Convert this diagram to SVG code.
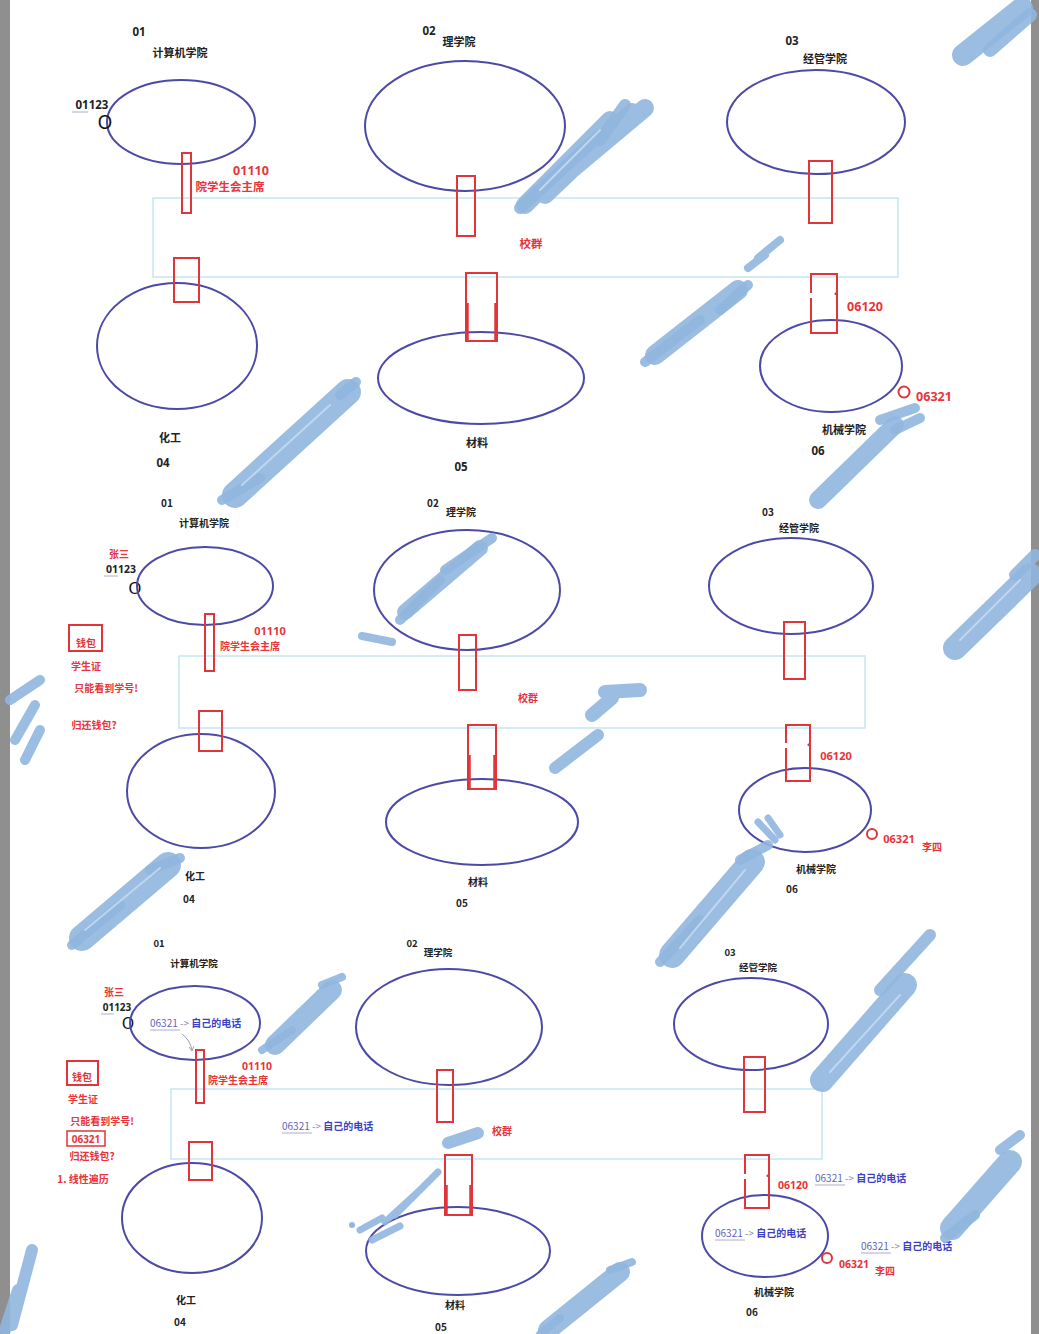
<svg xmlns="http://www.w3.org/2000/svg" width="1039" height="1334" viewBox="0 0 1039 1334">
<style>
.ell{fill:none;stroke:#4c4aa6;stroke-width:2}
.port{fill:none;stroke:#e0353a;stroke-width:2}
.thick{fill:none;stroke:#e0353a;stroke-width:3.5}
.grp{fill:none;stroke:#c4e6f0;stroke-width:1.5}
.k{font-family:"Noto Sans CJK SC","Noto Sans",sans-serif;font-weight:700;font-size:11px;fill:#222;text-anchor:middle}
.ks{font-family:"Noto Sans CJK SC","Noto Sans",sans-serif;font-weight:700;font-size:10px;fill:#222;text-anchor:middle}
.r{font-family:"Noto Sans CJK SC","Noto Sans",sans-serif;font-weight:700;font-size:11.5px;fill:#e8343a;text-anchor:middle}
.rs{font-family:"Noto Sans CJK SC","Noto Sans",sans-serif;font-weight:700;font-size:10px;fill:#e8343a;text-anchor:middle}
.rn{font-family:"Noto Sans","Liberation Sans",sans-serif;font-weight:700;font-size:12.5px;fill:#e8343a;text-anchor:middle}
.rns{font-family:"Noto Sans","Liberation Sans",sans-serif;font-weight:700;font-size:11px;fill:#e8343a;text-anchor:middle}
.kn{font-family:"Noto Sans","Liberation Sans",sans-serif;font-weight:700;font-size:11.5px;fill:#222;text-anchor:middle}
.big{font-family:"Noto Sans","Liberation Sans",sans-serif;font-size:19px;fill:#111;text-anchor:middle}
.b{font-family:"Noto Sans CJK SC","Noto Sans",sans-serif;font-weight:700;font-size:10px;fill:#3b3fc4}
.bn{fill:#6464b8;font-weight:400}
.ar{fill:#8a8aa8;font-weight:400}
.ul{stroke:#9a9ab8;stroke-width:0.8}
.sc{fill:none;stroke:#91b6df;stroke-linecap:round;stroke-linejoin:round;opacity:0.9}
.hl{fill:none;stroke:#c8dcf2;stroke-linecap:round;opacity:0.8}
</style>
<rect x="0" y="0" width="1039" height="1334" fill="#ffffff"/>
<rect x="0" y="0" width="10" height="1334" fill="#8f8f8f"/>
<rect x="1031" y="0" width="8" height="1334" fill="#8f8f8f"/>

<!-- ================= PANEL 1 ================= -->
<g id="p1-group">
<rect class="grp" x="153" y="198" width="745" height="79"/>
<text class="r" x="531" y="248">校群</text>
</g>
<g id="p1-n01">
<text class="kn" x="139" y="36">01</text>
<text class="k" x="180" y="57">计算机学院</text>
<ellipse class="ell" cx="181" cy="122" rx="74" ry="42"/>
<text class="kn" x="92" y="109">01123</text>
<line x1="72" y1="112" x2="88" y2="112" class="ul"/>
<text class="big" x="105" y="129">O</text>
<rect class="port" x="182" y="153" width="9" height="60"/>
<text class="rn" x="251" y="175">01110</text>
<text class="r" x="230" y="191">院学生会主席</text>
</g>
<g id="p1-n02">
<text class="kn" x="429" y="35">02</text>
<text class="k" x="459" y="46">理学院</text>
<ellipse class="ell" cx="465" cy="126" rx="100" ry="65"/>
<rect class="port" x="457" y="176" width="18" height="60"/>
</g>
<g id="p1-n03">
<text class="kn" x="792" y="45">03</text>
<text class="k" x="825" y="63">经管学院</text>
<ellipse class="ell" cx="816" cy="122" rx="89" ry="52"/>
<rect class="port" x="809" y="161" width="23" height="62"/>
</g>
<g id="p1-n04">
<ellipse class="ell" cx="177" cy="346" rx="80" ry="63"/>
<rect class="port" x="174" y="258" width="25" height="44"/>
<text class="k" x="170" y="442">化工</text>
<text class="kn" x="163" y="467">04</text>
</g>
<g id="p1-n05">
<ellipse class="ell" cx="481" cy="378" rx="103" ry="46"/>
<rect class="port" x="466" y="273" width="31" height="68"/>
<path class="thick" d="M467,303 V341 M496,303 V341"/>
<text class="k" x="477" y="447">材料</text>
<text class="kn" x="461" y="471">05</text>
</g>
<g id="p1-n06">
<ellipse class="ell" cx="831" cy="366" rx="71" ry="46"/>
<path class="port" d="M811,293 V274 H837 V333 H811 V298"/>
<path d="M834,294 l3,-3 v5 z" fill="#e0353a"/>
<text class="rn" x="865" y="311">06120</text>
<circle cx="904" cy="392" r="5.5" fill="none" stroke="#e0353a" stroke-width="2"/>
<text class="rn" x="934" y="401">06321</text>
<text class="k" x="844" y="434">机械学院</text>
<text class="kn" x="818" y="455">06</text>
</g>

<!-- ================= PANEL 2 ================= -->
<g id="p2-group">
<rect class="grp" x="179" y="656" width="686" height="72"/>
<text class="rs" x="528" y="702">校群</text>
</g>
<g id="p2-n01">
<text class="ks" x="167" y="507">01</text>
<text class="ks" x="204" y="527">计算机学院</text>
<text class="rs" x="119" y="558">张三</text>
<text class="kn" x="121" y="573" style="font-size:10.5px">01123</text>
<line x1="104" y1="576" x2="118" y2="576" class="ul"/>
<text class="big" x="135" y="594" style="font-size:17px">O</text>
<ellipse class="ell" cx="205" cy="586" rx="68" ry="39"/>
<rect class="port" x="205" y="614" width="9" height="57"/>
<text class="rns" x="270" y="635">01110</text>
<text class="rs" x="250" y="650">院学生会主席</text>
</g>
<g id="p2-notes">
<rect class="port" x="69" y="625" width="33" height="26"/>
<text class="rs" x="86" y="647">钱包</text>
<text class="rs" x="86" y="670">学生证</text>
<text class="rs" x="106" y="692">只能看到学号!</text>
<text class="rs" x="94" y="729">归还钱包?</text>
</g>
<g id="p2-n02">
<text class="ks" x="433" y="507">02</text>
<text class="ks" x="461" y="516">理学院</text>
<ellipse class="ell" cx="467" cy="590" rx="93" ry="60"/>
<rect class="port" x="459" y="635" width="17" height="55"/>
</g>
<g id="p2-n03">
<text class="ks" x="768" y="516">03</text>
<text class="ks" x="799" y="532">经管学院</text>
<ellipse class="ell" cx="791" cy="586" rx="82" ry="48"/>
<rect class="port" x="784" y="622" width="21" height="57"/>
</g>
<g id="p2-n04">
<ellipse class="ell" cx="201" cy="791" rx="74" ry="57"/>
<rect class="port" x="199" y="711" width="23" height="40"/>
<text class="ks" x="195" y="880">化工</text>
<text class="ks" x="189" y="903">04</text>
</g>
<g id="p2-n05">
<ellipse class="ell" cx="482" cy="822" rx="96" ry="43"/>
<rect class="port" x="468" y="725" width="28" height="64"/>
<path class="thick" d="M469,755 V789 M495,755 V789"/>
<text class="ks" x="478" y="886">材料</text>
<text class="ks" x="462" y="907">05</text>
</g>
<g id="p2-n06">
<ellipse class="ell" cx="805" cy="810" rx="66" ry="42"/>
<path class="port" d="M786,743 V725 H810 V781 H786 V748"/>
<path d="M807,745 l3,-3 v5 z" fill="#e0353a"/>
<text class="rns" x="836" y="760">06120</text>
<circle cx="872" cy="834" r="5" fill="none" stroke="#e0353a" stroke-width="2"/>
<text class="rns" x="899" y="843">06321</text>
<text class="rs" x="932" y="851">李四</text>
<text class="ks" x="816" y="873">机械学院</text>
<text class="ks" x="792" y="893">06</text>
</g>

<!-- ================= PANEL 3 ================= -->
<g id="p3-group">
<rect class="grp" x="171" y="1089" width="651" height="70"/>
<text class="rs" x="502" y="1135">校群</text>
<text class="b" x="282" y="1130"><tspan class="bn">06321</tspan><tspan class="ar"> -&gt; </tspan>自己的电话</text>
<line x1="282" y1="1133" x2="312" y2="1133" class="ul"/>
</g>
<g id="p3-n01">
<text class="ks" x="159" y="947" style="font-size:9.5px">01</text>
<text class="ks" x="194" y="967" style="font-size:9.5px">计算机学院</text>
<text class="rs" x="114" y="996">张三</text>
<text class="kn" x="117" y="1011" style="font-size:10px">01123</text>
<line x1="101" y1="1014" x2="114" y2="1014" class="ul"/>
<text class="big" x="128" y="1029" style="font-size:16px">O</text>
<ellipse class="ell" cx="195" cy="1023" rx="65" ry="37"/>
<text class="b" x="150" y="1027"><tspan class="bn">06321</tspan><tspan class="ar"> -&gt; </tspan>自己的电话</text>
<line x1="150" y1="1030" x2="180" y2="1030" class="ul"/>
<rect class="port" x="196" y="1050" width="8" height="53"/>
<text class="rns" x="257" y="1070" style="font-size:10.5px">01110</text>
<text class="rs" x="238" y="1084">院学生会主席</text>
</g>
<g id="p3-notes">
<rect class="port" x="67" y="1061" width="31" height="24"/>
<text class="rs" x="82" y="1081">钱包</text>
<text class="rs" x="83" y="1103">学生证</text>
<text class="rs" x="102" y="1125">只能看到学号!</text>
<rect class="port" x="67" y="1131" width="38" height="15" style="stroke-width:1.5"/>
<text class="rns" x="86" y="1143" style="font-size:10px">06321</text>
<text class="rs" x="92" y="1160">归还钱包?</text>
<text class="rs" x="83" y="1183">1. 线性遍历</text>
</g>
<g id="p3-n02">
<text class="ks" x="412" y="947" style="font-size:9.5px">02</text>
<text class="ks" x="438" y="956" style="font-size:9.5px">理学院</text>
<ellipse class="ell" cx="449" cy="1027" rx="93" ry="58"/>
<rect class="port" x="437" y="1070" width="16" height="52"/>
</g>
<g id="p3-n03">
<text class="ks" x="730" y="956" style="font-size:9.5px">03</text>
<text class="ks" x="758" y="971" style="font-size:9.5px">经管学院</text>
<ellipse class="ell" cx="751" cy="1024" rx="77" ry="46"/>
<rect class="port" x="744" y="1057" width="21" height="55"/>
</g>
<g id="p3-n04">
<ellipse class="ell" cx="192" cy="1218" rx="70" ry="55"/>
<rect class="port" x="189" y="1142" width="23" height="38"/>
<text class="ks" x="186" y="1304">化工</text>
<text class="ks" x="180" y="1326">04</text>
</g>
<g id="p3-n05">
<ellipse class="ell" cx="458" cy="1251" rx="92" ry="44"/>
<rect class="port" x="445" y="1155" width="27" height="60"/>
<path class="thick" d="M446,1185 V1215 M471,1185 V1215"/>
<text class="ks" x="455" y="1309">材料</text>
<text class="ks" x="441" y="1331">05</text>
</g>
<g id="p3-n06">
<ellipse class="ell" cx="765" cy="1236" rx="63" ry="41"/>
<path class="port" d="M745,1174 V1155 H769 V1208 H745 V1179"/>
<path d="M766,1176 l3,-3 v5 z" fill="#e0353a"/>
<text class="rns" x="793" y="1189" style="font-size:10.5px">06120</text>
<text class="b" x="815" y="1182"><tspan class="bn">06321</tspan><tspan class="ar"> -&gt; </tspan>自己的电话</text>
<line x1="815" y1="1185" x2="845" y2="1185" class="ul"/>
<text class="b" x="715" y="1237"><tspan class="bn">06321</tspan><tspan class="ar"> -&gt; </tspan>自己的电话</text>
<line x1="715" y1="1240" x2="745" y2="1240" class="ul"/>
<circle cx="827" cy="1258" r="5" fill="none" stroke="#e0353a" stroke-width="2"/>
<text class="rns" x="854" y="1268" style="font-size:10.5px">06321</text>
<text class="rs" x="885" y="1275">李四</text>
<text class="b" x="861" y="1250"><tspan class="bn">06321</tspan><tspan class="ar"> -&gt; </tspan>自己的电话</text>
<line x1="861" y1="1253" x2="891" y2="1253" class="ul"/>
<text class="ks" x="774" y="1296">机械学院</text>
<text class="ks" x="752" y="1316">06</text>
</g>

<!-- connectors -->
<g id="connectors">
<path d="M182,1034 Q190,1040 192,1050" fill="none" stroke="#a0a0a8" stroke-width="1"/>
<path d="M189,1047 l3,4 l2,-5" fill="none" stroke="#a0a0a8" stroke-width="1"/>
</g>

<!-- blue redaction scribbles -->
<g id="scribbles">
<path class="sc" stroke-width="22" d="M963,55 L1022,8"/>
<path class="sc" stroke-width="14" d="M990,50 L1030,15"/>
<path class="sc" stroke-width="18" d="M525,205 L610,120 M545,195 L632,112 M565,175 L645,108"/>
<path class="sc" stroke-width="12" d="M520,208 L600,135 M600,140 L625,105"/>
<path class="sc" stroke-width="8" d="M758,258 L780,240 M748,268 L765,255"/>
<path class="sc" stroke-width="20" d="M655,355 L738,290"/>
<path class="sc" stroke-width="10" d="M645,362 L700,320 M720,310 L748,285"/>
<path class="sc" stroke-width="26" d="M235,495 L348,392"/>
<path class="sc" stroke-width="10" d="M222,500 L260,478 M340,395 L356,382"/>
<path class="sc" stroke-width="18" d="M818,500 L895,425"/>
<path class="sc" stroke-width="10" d="M880,420 L915,408 M895,430 L920,418"/>
<path class="sc" stroke-width="24" d="M955,648 L1030,575"/>
<path class="sc" stroke-width="12" d="M1015,575 L1035,555"/>
<path class="sc" stroke-width="16" d="M405,612 L480,548"/>
<path class="sc" stroke-width="10" d="M400,620 L440,580 M445,570 L492,538"/>
<path class="sc" stroke-width="8" d="M362,636 L392,642"/>
<path class="sc" stroke-width="14" d="M592,715 L612,698 M605,692 L640,690"/>
<path class="sc" stroke-width="12" d="M555,768 L598,735"/>
<path class="sc" stroke-width="10" d="M10,700 L40,680 M15,740 L35,705 M25,760 L40,730"/>
<path class="sc" stroke-width="26" d="M82,938 L168,865"/>
<path class="sc" stroke-width="10" d="M72,945 L120,905 M150,870 L180,858"/>
<path class="sc" stroke-width="26" d="M672,955 L752,862"/>
<path class="sc" stroke-width="10" d="M660,962 L700,920 M740,860 L768,845"/>
<path class="sc" stroke-width="7" d="M758,822 L775,840 M768,818 L780,835"/>
<path class="sc" stroke-width="20" d="M275,1045 L332,990"/>
<path class="sc" stroke-width="8" d="M262,1050 L292,1030 M322,985 L342,977"/>
<path class="sc" stroke-width="24" d="M822,1080 L905,985"/>
<path class="sc" stroke-width="12" d="M880,990 L930,935"/>
<path class="sc" stroke-width="12" d="M448,1143 L478,1133"/>
<path class="sc" stroke-width="7" d="M395,1215 L438,1172 M385,1222 L420,1190 M372,1240 L400,1226 M360,1230 L382,1218"/>
<circle cx="352" cy="1225" r="3" fill="#91b6df"/>
<path class="sc" stroke-width="24" d="M952,1228 L1010,1162"/>
<path class="sc" stroke-width="10" d="M945,1238 L975,1215 M1000,1150 L1020,1135"/>
<path class="sc" stroke-width="12" d="M12,1325 L32,1250 M5,1330 L18,1290"/>
<path class="sc" stroke-width="20" d="M548,1330 L620,1272"/>
<path class="sc" stroke-width="8" d="M540,1334 L560,1318 M610,1270 L632,1262"/>
<path class="hl" stroke-width="2" d="M540,190 L600,130 M242,485 L330,405 M960,640 L1020,580 M85,930 L160,868 M680,948 L745,870 M830,1072 L900,995"/>
</g>
</svg>
